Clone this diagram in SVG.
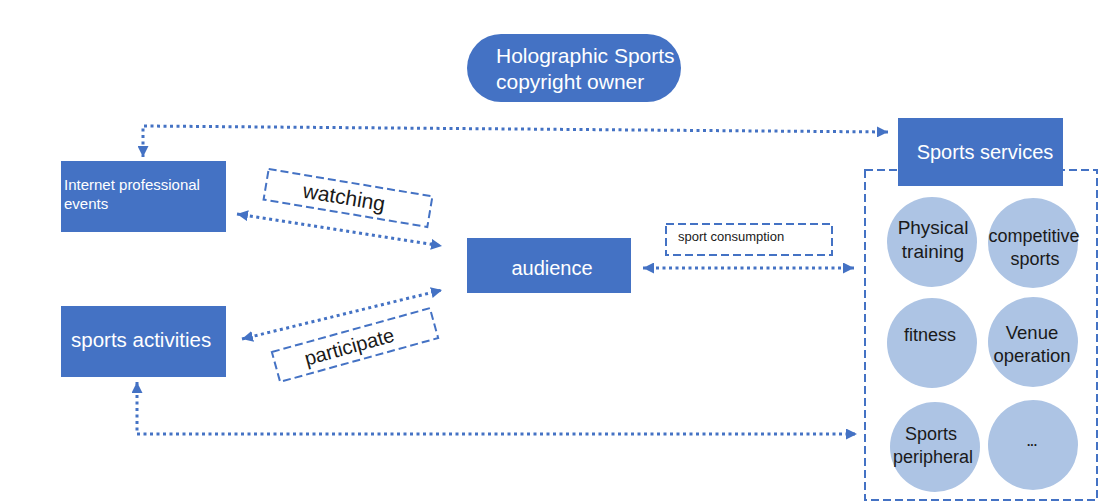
<svg xmlns="http://www.w3.org/2000/svg" width="1109" height="504" viewBox="0 0 1109 504">
<style>
.box{fill:#4472c4}
.wt{fill:#ffffff;font-family:"Liberation Sans",Arial,sans-serif}
.dk{fill:#1a1a1a;font-family:"Liberation Sans",Arial,sans-serif}
.circ{fill:#adc4e4}
.dot{fill:none;stroke:#4472c4;stroke-width:3;stroke-dasharray:3 3.5}
.dash{fill:#ffffff;stroke:#4472c4;stroke-width:2;stroke-dasharray:8 4}
</style>
<defs>
<marker id="ah" viewBox="0 0 10 10" refX="10" refY="5" markerWidth="11" markerHeight="11" markerUnits="userSpaceOnUse" orient="auto-start-reverse">
<path d="M0,0 L10,5 L0,10 z" fill="#4472c4"/>
</marker>
</defs>
<rect width="1109" height="504" fill="#ffffff"/>

<g id="container">
<rect x="865" y="170" width="232" height="330" fill="none" stroke="#4472c4" stroke-width="2" stroke-dasharray="8 4"/>
</g>

<g id="connectors">
<path class="dot" d="M888,132 L143,126 L143,157" marker-start="url(#ah)" marker-end="url(#ah)"/>
<path class="dot" d="M237,214 L442,246" marker-start="url(#ah)" marker-end="url(#ah)"/>
<path class="dot" d="M242,339 L442,290" marker-start="url(#ah)" marker-end="url(#ah)"/>
<path class="dot" d="M643,268 L854,268" marker-start="url(#ah)" marker-end="url(#ah)"/>
<path class="dot" d="M137,382 L137,434 L857,434" marker-start="url(#ah)" marker-end="url(#ah)"/>
</g>

<g id="owner">
<rect x="467" y="34" width="214" height="68" rx="34" ry="34" class="box"/>
<text class="wt" x="496" y="63" font-size="21">Holographic Sports</text>
<text class="wt" x="496" y="89" font-size="21">copyright owner</text>
</g>

<g id="internet-events">
<rect x="61" y="161" width="165" height="71" class="box"/>
<text class="wt" x="64" y="190" font-size="15">Internet professional</text>
<text class="wt" x="64" y="209" font-size="15">events</text>
</g>

<g id="watching">
<g transform="translate(348,198) rotate(9.5)">
<rect x="-83" y="-15.5" width="166" height="31" class="dash"/>
<text class="dk" x="-4" y="7" font-size="21" text-anchor="middle">watching</text>
</g>
</g>

<g id="audience">
<rect x="467" y="238" width="164" height="55" class="box"/>
<text class="wt" x="552" y="275" font-size="20" text-anchor="middle">audience</text>
</g>

<g id="sports-activities">
<rect x="61" y="306" width="165" height="71" class="box"/>
<text class="wt" x="71" y="347" font-size="20.5">sports activities</text>
</g>

<g id="participate">
<g transform="translate(355,345) rotate(-15.5)">
<rect x="-82" y="-15.5" width="164" height="31" class="dash"/>
<text class="dk" x="-6" y="7" font-size="20" text-anchor="middle">participate</text>
</g>
</g>

<g id="sport-consumption">
<rect x="666" y="224" width="166" height="31" class="dash"/>
<text class="dk" x="678" y="241" font-size="13">sport consumption</text>
</g>

<g id="sports-services">
<rect x="898" y="118" width="165" height="68" class="box"/>
<text class="wt" x="985" y="159" font-size="20" text-anchor="middle">Sports services</text>
</g>

<g id="physical-training">
<circle cx="932" cy="242" r="45" class="circ"/>
<text class="dk" x="933" y="234" font-size="19" text-anchor="middle">Physical</text>
<text class="dk" x="933" y="258" font-size="19" text-anchor="middle">training</text>
</g>

<g id="competitive-sports">
<circle cx="1033" cy="243" r="45" class="circ"/>
<text class="dk" x="1034" y="242" font-size="18" text-anchor="middle">competitive</text>
<text class="dk" x="1035" y="265" font-size="18" text-anchor="middle">sports</text>
</g>

<g id="fitness">
<circle cx="932" cy="343" r="45" class="circ"/>
<text class="dk" x="930" y="341" font-size="18" text-anchor="middle">fitness</text>
</g>

<g id="venue-operation">
<circle cx="1033" cy="342" r="45" class="circ"/>
<text class="dk" x="1032" y="339" font-size="18.5" text-anchor="middle">Venue</text>
<text class="dk" x="1032" y="362" font-size="18.5" text-anchor="middle">operation</text>
</g>

<g id="sports-peripheral">
<circle cx="935" cy="447" r="45" class="circ"/>
<text class="dk" x="931" y="440" font-size="18" text-anchor="middle">Sports</text>
<text class="dk" x="933" y="463" font-size="18" text-anchor="middle">peripheral</text>
</g>

<g id="etc">
<circle cx="1033" cy="445" r="45" class="circ"/>
<text class="dk" x="1032" y="446" font-size="12" font-weight="bold" text-anchor="middle">...</text>
</g>
</svg>
